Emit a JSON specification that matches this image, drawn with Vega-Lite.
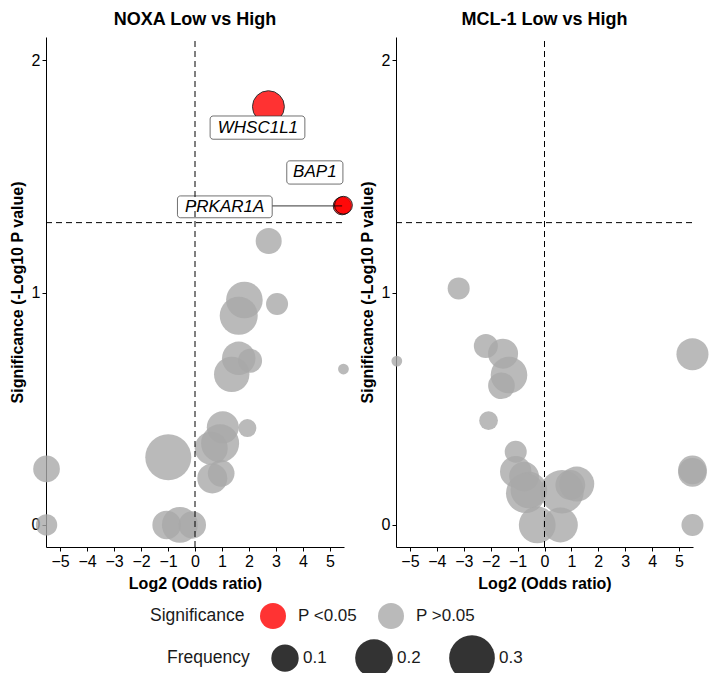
{
  "$schema": "https://vega.github.io/schema/vega-lite/v6.json",
  "padding": {"left": 9, "top": 10, "right": 5, "bottom": 5},
  "background": "white",
  "datasets": {
    "noxa": [
      {"gene": "", "x": 2.73, "y": 1.222, "freq": 0.089, "sig": "P >0.05"},
      {"gene": "", "x": 1.83, "y": 0.968, "freq": 0.188, "sig": "P >0.05"},
      {"gene": "", "x": 1.62, "y": 0.9, "freq": 0.204, "sig": "P >0.05"},
      {"gene": "", "x": 3.04, "y": 0.951, "freq": 0.06, "sig": "P >0.05"},
      {"gene": "", "x": 1.62, "y": 0.717, "freq": 0.155, "sig": "P >0.05"},
      {"gene": "", "x": 2.04, "y": 0.707, "freq": 0.074, "sig": "P >0.05"},
      {"gene": "", "x": 1.36, "y": 0.648, "freq": 0.175, "sig": "P >0.05"},
      {"gene": "", "x": 5.5, "y": 0.671, "freq": 0.005, "sig": "P >0.05"},
      {"gene": "", "x": 1.03, "y": 0.42, "freq": 0.141, "sig": "P >0.05"},
      {"gene": "", "x": 1.94, "y": 0.417, "freq": 0.036, "sig": "P >0.05"},
      {"gene": "", "x": 0.93, "y": 0.351, "freq": 0.204, "sig": "P >0.05"},
      {"gene": "", "x": 0.6, "y": 0.33, "freq": 0.15, "sig": "P >0.05"},
      {"gene": "", "x": 0.97, "y": 0.222, "freq": 0.094, "sig": "P >0.05"},
      {"gene": "", "x": 0.64, "y": 0.2, "freq": 0.122, "sig": "P >0.05"},
      {"gene": "", "x": -0.99, "y": 0.291, "freq": 0.304, "sig": "P >0.05"},
      {"gene": "", "x": -5.5, "y": 0.241, "freq": 0.094, "sig": "P >0.05"},
      {"gene": "", "x": -5.5, "y": 0.0, "freq": 0.056, "sig": "P >0.05"},
      {"gene": "", "x": -1.05, "y": 0.0, "freq": 0.11, "sig": "P >0.05"},
      {"gene": "", "x": -0.56, "y": 0.0, "freq": 0.18, "sig": "P >0.05"},
      {"gene": "", "x": -0.1, "y": 0.0, "freq": 0.1, "sig": "P >0.05"},
      {"gene": "WHSC1L1", "x": 2.72, "y": 1.8, "freq": 0.14, "sig": "P <0.05"},
      {"gene": "PRKAR1A", "x": 5.45, "y": 1.373, "freq": 0.035, "sig": "P <0.05"},
      {"gene": "BAP1", "x": 5.5, "y": 1.376, "freq": 0.035, "sig": "P <0.05"}
    ],
    "mcl1": [
      {"x": -3.19, "y": 1.018, "freq": 0.06, "sig": "P >0.05"},
      {"x": -5.49, "y": 0.705, "freq": 0.005, "sig": "P >0.05"},
      {"x": -2.18, "y": 0.77, "freq": 0.074, "sig": "P >0.05"},
      {"x": -1.54, "y": 0.737, "freq": 0.122, "sig": "P >0.05"},
      {"x": -1.32, "y": 0.645, "freq": 0.188, "sig": "P >0.05"},
      {"x": -1.6, "y": 0.599, "freq": 0.094, "sig": "P >0.05"},
      {"x": -2.08, "y": 0.449, "freq": 0.04, "sig": "P >0.05"},
      {"x": -1.07, "y": 0.315, "freq": 0.06, "sig": "P >0.05"},
      {"x": -1.07, "y": 0.229, "freq": 0.135, "sig": "P >0.05"},
      {"x": -0.76, "y": 0.208, "freq": 0.12, "sig": "P >0.05"},
      {"x": -0.58, "y": 0.15, "freq": 0.188, "sig": "P >0.05"},
      {"x": -0.7, "y": 0.136, "freq": 0.22, "sig": "P >0.05"},
      {"x": 0.65, "y": 0.143, "freq": 0.27, "sig": "P >0.05"},
      {"x": 1.2, "y": 0.176, "freq": 0.17, "sig": "P >0.05"},
      {"x": 0.96, "y": 0.172, "freq": 0.12, "sig": "P >0.05"},
      {"x": -0.27, "y": 0.0, "freq": 0.19, "sig": "P >0.05"},
      {"x": 0.59, "y": 0.0, "freq": 0.17, "sig": "P >0.05"},
      {"x": 5.5, "y": 0.735, "freq": 0.141, "sig": "P >0.05"},
      {"x": 5.5, "y": 0.237, "freq": 0.11, "sig": "P >0.05"},
      {"x": 5.5, "y": 0.226, "freq": 0.11, "sig": "P >0.05"},
      {"x": 5.5, "y": 0.0, "freq": 0.06, "sig": "P >0.05"}
    ],
    "labelbox": [
      {"gene": "WHSC1L1", "x": 0.56, "x2": 4.07, "y": 1.66, "y2": 1.76},
      {"gene": "BAP1", "x": 3.4, "x2": 5.48, "y": 1.467, "y2": 1.567},
      {"gene": "PRKAR1A", "x": -0.65, "x2": 2.86, "y": 1.322, "y2": 1.416}
    ],
    "labeltext": [
      {"gene": "WHSC1L1", "x": 2.33, "y": 1.71},
      {"gene": "BAP1", "x": 4.44, "y": 1.517},
      {"gene": "PRKAR1A", "x": 1.1, "y": 1.369}
    ],
    "segments": [
      {"gene": "PRKAR1A", "x": 2.86, "x2": 5.45, "y": 1.373}
    ],
    "vref": [
      {"x": 0, "y": -0.095, "y2": 2.1}
    ],
    "href": [
      {"x": -5.52, "x2": 5.52, "y": 1.30103}
    ]
  },
  "hconcat": [
    {
      "title": "NOXA Low vs High",
      "width": 298,
      "height": 510,
      "encoding": {
        "x": {"field": "x", "type": "quantitative", "scale": {"domain": [-5.52, 5.52], "nice": false, "zero": false}, "axis": {"title": "Log2 (Odds ratio)", "values": [-5, -4, -3, -2, -1, 0, 1, 2, 3, 4, 5], "labelOverlap": false, "labelSeparation": 0}},
        "y": {"field": "y", "type": "quantitative", "scale": {"domain": [-0.095, 2.1], "nice": false, "zero": false}, "axis": {"title": "Significance (-Log10 P value)", "values": [0, 1, 2], "labelOverlap": false}}
      },
      "layer": [
        {
          "data": {"name": "noxa"},
          "mark": {"type": "circle", "opacity": 0.8, "stroke": "#000", "strokeWidth": 1},
          "encoding": {
            "fill": {"field": "sig", "type": "nominal", "title": "Significance", "scale": {"domain": ["P <0.05", "P >0.05"], "range": ["#ff0000", "#a9a9a9"]}, "legend": {"symbolSize": 676, "legendX": 104, "legendY": 566, "symbolOpacity": 0.8, "titlePadding": 15, "labelOffset": 12, "columnPadding": 20}},
            "strokeOpacity": {"condition": {"test": "datum.sig === 'P <0.05'", "value": 1}, "value": 0},
            "size": {"field": "freq", "type": "quantitative", "title": "Frequency", "scale": {"domain": [0, 0.3], "range": [83, 2088], "zero": false}, "legend": {"values": [0.1, 0.2, 0.3], "format": ".1f", "legendX": 121, "legendY": 598, "symbolFillColor": "#000", "symbolOpacity": 0.8, "titlePadding": 21, "labelOffset": 4, "columnPadding": 28}}
          }
        },
        {
          "data": {"name": "segments"},
          "mark": {"type": "rule", "color": "#000", "strokeWidth": 0.8},
          "encoding": {"x2": {"field": "x2"}}
        },
        {
          "data": {"name": "labelbox"},
          "mark": {"type": "rect", "fill": "white", "stroke": "#333", "strokeWidth": 0.7, "cornerRadius": 3},
          "encoding": {"x2": {"field": "x2"}, "y2": {"field": "y2"}}
        },
        {
          "data": {"name": "labeltext"},
          "mark": {"type": "text", "fontSize": 17, "fontStyle": "italic", "color": "#000", "baseline": "middle", "align": "center"},
          "encoding": {"text": {"field": "gene"}}
        },
        {
          "data": {"name": "vref"},
          "mark": {"type": "rule", "strokeDash": [6, 4], "color": "#000", "strokeWidth": 1},
          "encoding": {"y2": {"field": "y2"}}
        },
        {
          "data": {"name": "href"},
          "mark": {"type": "rule", "strokeDash": [6, 4], "color": "#000", "strokeWidth": 1},
          "encoding": {"x2": {"field": "x2"}}
        }
      ]
    },
    {
      "title": "MCL-1 Low vs High",
      "width": 297,
      "height": 510,
      "encoding": {
        "x": {"field": "x", "type": "quantitative", "scale": {"domain": [-5.52, 5.52], "nice": false, "zero": false}, "axis": {"title": "Log2 (Odds ratio)", "values": [-5, -4, -3, -2, -1, 0, 1, 2, 3, 4, 5], "labelOverlap": false, "labelSeparation": 0}},
        "y": {"field": "y", "type": "quantitative", "scale": {"domain": [-0.095, 2.1], "nice": false, "zero": false}, "axis": {"title": "Significance (-Log10 P value)", "values": [0, 1, 2], "labelOverlap": false}}
      },
      "layer": [
        {
          "data": {"name": "mcl1"},
          "mark": {"type": "circle", "opacity": 0.8, "stroke": "#000", "strokeWidth": 1},
          "encoding": {
            "fill": {"field": "sig", "type": "nominal", "title": "Significance", "scale": {"domain": ["P <0.05", "P >0.05"], "range": ["#ff0000", "#a9a9a9"]}},
            "strokeOpacity": {"condition": {"test": "datum.sig === 'P <0.05'", "value": 1}, "value": 0},
            "size": {"field": "freq", "type": "quantitative", "title": "Frequency", "scale": {"domain": [0, 0.3], "range": [83, 2088], "zero": false}}
          }
        },
        {
          "data": {"name": "vref"},
          "mark": {"type": "rule", "strokeDash": [6, 4], "color": "#000", "strokeWidth": 1},
          "encoding": {"y2": {"field": "y2"}}
        },
        {
          "data": {"name": "href"},
          "mark": {"type": "rule", "strokeDash": [6, 4], "color": "#000", "strokeWidth": 1},
          "encoding": {"x2": {"field": "x2"}}
        }
      ]
    }
  ],
  "spacing": 4,
  "resolve": {"scale": {"fill": "shared", "size": "shared"}},
  "config": {
    "font": "Liberation Sans",
    "view": {"stroke": null},
    "axis": {"grid": false, "domainColor": "#000", "tickColor": "#000", "labelColor": "#000", "titleColor": "#000", "labelFontSize": 16, "titleFontSize": 16, "titleFontWeight": "bold", "tickSize": 4, "labelPadding": 2, "titlePadding": 6, "domainWidth": 1, "labelOverlap": false, "format": "d"},
    "title": {"fontSize": 18, "fontWeight": "bold", "color": "#000", "offset": 8, "anchor": "middle"},
    "legend": {
      "orient": "none",
      "direction": "horizontal",
      "titleOrient": "left",
      "titleFontSize": 17.5,
      "titleFontWeight": "normal",
      "titleColor": "#1a1a1a",
      "labelFontSize": 17,
      "labelColor": "#1a1a1a",
      "symbolType": "circle",
      "symbolStrokeWidth": 0
    }
  }
}
